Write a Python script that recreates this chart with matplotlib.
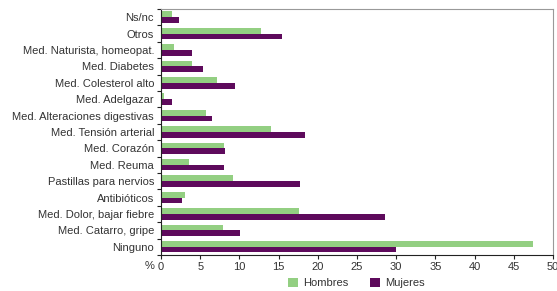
import numpy as np
import matplotlib
matplotlib.use("Agg")
from matplotlib import pyplot as plt
from matplotlib.patches import Patch

## Data
categorias = ['Ns/nc', 'Otros', 'Med. Naturista, homeopat.', 'Med. Diabetes',
              'Med. Colesterol alto', 'Med. Adelgazar', 'Med. Alteraciones digestivas',
              'Med. Tensión arterial', 'Med. Corazón', 'Med. Reuma',
              'Pastillas para nervios', 'Antibióticos', 'Med. Dolor, bajar fiebre',
              'Med. Catarro, gripe', 'Ninguno']
hombres = [1.4, 12.7, 1.7, 4.0, 7.2, 0.4, 5.7, 14.0, 8.0, 3.6, 9.2, 3.0, 17.6, 7.9, 47.4]
mujeres = [2.3, 15.4, 4.0, 5.3, 9.4, 1.4, 6.5, 18.4, 8.2, 8.1, 17.7, 2.7, 28.6, 10.1, 30.0]
xticks = [0, 5, 10, 15, 20, 25, 30, 35, 40, 45, 50]

verde = '#93cf82'
morado = '#5e0a5c'
gris_texto = '#333333'

plt.rcParams['font.family'] = ['Liberation Sans', 'DejaVu Sans']
plt.rcParams['font.size'] = 8

fig = plt.figure(figsize=(5.57, 2.91), dpi=100)
ax = fig.add_axes([0.289, 0.124, 0.704, 0.845])

y = np.arange(len(categorias))
h = 0.35
ax.barh(y - h / 2, hombres, height=h, color=verde, linewidth=0)
ax.barh(y + h / 2, mujeres, height=h, color=morado, linewidth=0)

ax.set_ylim(len(categorias) - 0.5, -0.5)
ax.set_xlim(0, 50)
ax.set_xticks(xticks)
ax.set_xticklabels([str(t) for t in xticks], color=gris_texto)

# category labels in the middle, ticks on the boundaries
ax.set_yticks(y)
ax.set_yticklabels(categorias, color=gris_texto)
ax.tick_params(axis='y', which='major', length=0, pad=5)
ax.set_yticks(np.arange(len(categorias) + 1) - 0.5, minor=True)
ax.tick_params(axis='y', which='minor', length=3, width=0.8, color='#222222')
ax.tick_params(axis='x', length=3, width=0.8, color='#222222', pad=2)

for s in ['top', 'right']:
    ax.spines[s].set_color('#999999')
    ax.spines[s].set_linewidth(0.8)
for s in ['left', 'bottom']:
    ax.spines[s].set_color('#222222')
    ax.spines[s].set_linewidth(0.8)

fig.text(0.277, 0.085, '%', ha='right', va='center', color=gris_texto, fontsize=8)

handles = [Patch(facecolor=verde, label='Hombres'), Patch(facecolor=morado, label='Mujeres')]
fig.legend(handles=handles, loc='lower center', bbox_to_anchor=(0.64, -0.025), ncol=2,
           frameon=False, handlelength=0.9, handleheight=0.9, handletextpad=0.4,
           columnspacing=2.0, labelcolor=gris_texto, fontsize=8)

plt.savefig('out.png', dpi=100)
